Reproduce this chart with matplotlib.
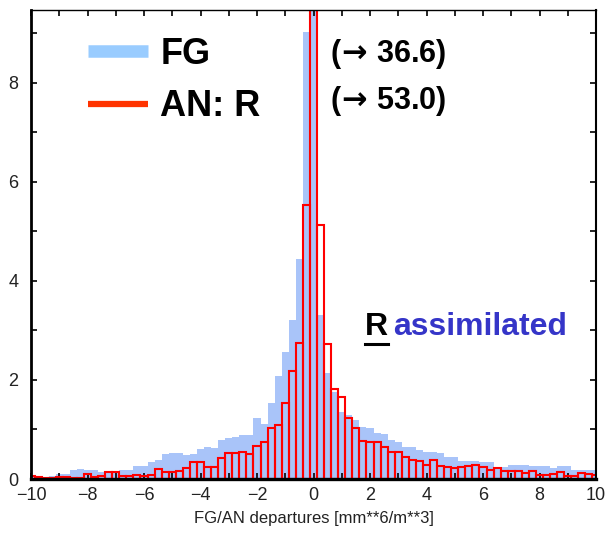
import numpy as np
import matplotlib
matplotlib.use('Agg')
import matplotlib.pyplot as plt
from matplotlib.lines import Line2D

# histogram bins: 0.25 wide, centred on -10 ... 10
bin_centers = np.linspace(-10, 10, 81)

fg_values = [
    0.08, 0.07, 0.05, 0.07, 0.10, 0.10, 0.18, 0.20, 0.18, 0.18,
    0.15, 0.15, 0.12, 0.18, 0.18, 0.26, 0.26, 0.35, 0.38, 0.50,
    0.53, 0.53, 0.48, 0.51, 0.60, 0.65, 0.62, 0.79, 0.82, 0.85,
    0.88, 0.89, 1.24, 1.12, 1.54, 2.07, 2.57, 3.21, 4.45, 9.03,
    36.6,
    3.31, 2.15, 1.75, 1.36, 1.29, 1.20, 1.06, 1.03, 0.92, 0.90,
    0.78, 0.75, 0.65, 0.64, 0.58, 0.55, 0.55, 0.52, 0.45, 0.44,
    0.37, 0.36, 0.36, 0.35, 0.34, 0.22, 0.24, 0.28, 0.28, 0.28,
    0.27, 0.26, 0.27, 0.22, 0.27, 0.26, 0.18, 0.18, 0.18, 0.18,
]

an_values = [
    0.06, 0.04, 0.02, 0.03, 0.05, 0.05, 0.03, 0.03, 0.11, 0.05,
    0.06, 0.15, 0.15, 0.07, 0.07, 0.08, 0.07, 0.08, 0.20, 0.14,
    0.14, 0.16, 0.22, 0.35, 0.35, 0.24, 0.25, 0.42, 0.53, 0.52,
    0.54, 0.50, 0.67, 0.74, 1.02, 1.10, 1.54, 2.18, 2.75, 5.54,
    53.0,
    5.12, 2.73, 1.82, 1.65, 1.23, 1.02, 0.77, 0.74, 0.74, 0.65,
    0.54, 0.55, 0.44, 0.39, 0.36, 0.28, 0.38, 0.27, 0.25, 0.22,
    0.24, 0.26, 0.28, 0.24, 0.18, 0.22, 0.17, 0.16, 0.16, 0.13,
    0.16, 0.08, 0.09, 0.10, 0.15, 0.06, 0.06, 0.13, 0.10, 0.08,
]

legend_labels = ['FG', 'AN: R']
peak_labels = [r'($\!\mathbf{\rightarrow}\!$ 36.6)',
               r'($\!\mathbf{\rightarrow}\!$ 53.0)']

plt.rcParams['font.family'] = ['Liberation Sans', 'DejaVu Sans']
plt.rcParams['mathtext.fontset'] = 'dejavusans'

fig = plt.figure(figsize=(6.06, 5.33), dpi=100)
ax = fig.add_axes([31 / 606, 54 / 533, 565 / 606, 469 / 533])

ax.bar(bin_centers, fg_values, width=0.25, color='#a9c4f9', linewidth=0, zorder=1)
ax.bar(bin_centers, an_values, width=0.25, fill=False, edgecolor='#ff0000',
       linewidth=1.5, zorder=2)

ax.set_xlim(-10, 10)
ax.set_ylim(0, 9.47)
ax.set_xticks(np.arange(-10, 11, 2))
ax.set_xticks(np.arange(-10, 11, 1), minor=True)
ax.set_yticks([0, 2, 4, 6, 8])
ax.set_yticks(np.arange(0, 10, 1), minor=True)
ax.tick_params(which='both', direction='in', top=True, right=True,
               length=4, width=1.2, color='black')
ax.tick_params(axis='both', labelsize=13, labelcolor='#222222')
ax.tick_params(axis='x', pad=6)
ax.tick_params(axis='y', pad=9)

ax.spines['left'].set_linewidth(2.0)
ax.spines['bottom'].set_linewidth(2.4)
ax.spines['top'].set_linewidth(1.0)
ax.spines['right'].set_linewidth(1.5)

ax.set_xlabel('FG/AN departures [mm**6/m**3]', fontsize=12, color='#222222', labelpad=5)

handles = [Line2D([], [], color='#99ccff', linewidth=9, solid_capstyle='butt'),
           Line2D([], [], color='#ff3300', linewidth=4.5, solid_capstyle='butt')]
ax.legend(handles, legend_labels, loc='upper left', bbox_to_anchor=(0.101, 0.943),
          frameon=False, handlelength=1.67, handletextpad=0.33, labelspacing=0.49,
          borderpad=0, borderaxespad=0, prop={'size': 26, 'weight': 'bold'})

ax.text(0.529, 0.906, peak_labels[0], transform=ax.transAxes, fontsize=22,
        fontweight='bold', va='center', ha='left')
ax.text(0.529, 0.806, peak_labels[1], transform=ax.transAxes, fontsize=22,
        fontweight='bold', va='center', ha='left')

r_txt = ax.text(0.591, 0.325, 'R', transform=ax.transAxes, fontsize=23,
                fontweight='bold', va='center', ha='left', color='black')
ax.text(0.641, 0.325, 'assimilated', transform=ax.transAxes, fontsize=23,
        fontweight='bold', va='center', ha='left', color='#3535c8')

# underline the R
fig.canvas.draw()
bb = r_txt.get_window_extent().transformed(fig.transFigure.inverted())
fig.add_artist(Line2D([bb.x0, bb.x1], [bb.y0 - 0.004, bb.y0 - 0.004],
                      transform=fig.transFigure, color='black', linewidth=2.2))

fig.savefig('out.png', dpi=100)
